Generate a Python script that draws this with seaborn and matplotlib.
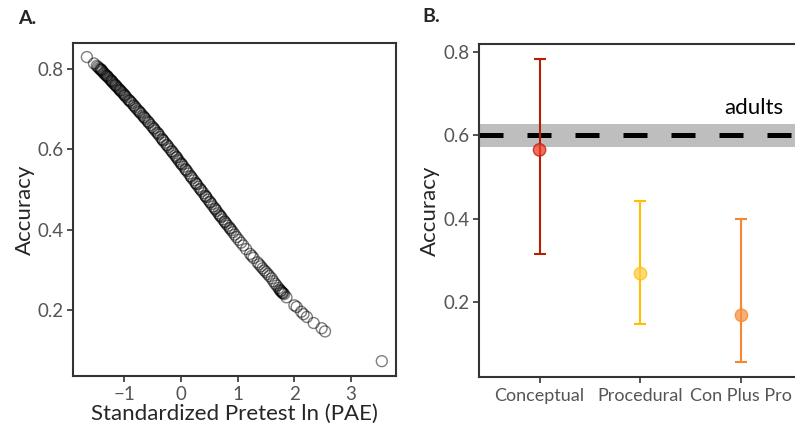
import numpy as np
import pandas as pd
import matplotlib
matplotlib.use("Agg")
import matplotlib.pyplot as plt
import seaborn as sns

# Panel A: standardized pretest ln(PAE) vs predicted accuracy (one circle per child)
pretest = [-1.655, -1.53, -1.48, -1.44, -1.41, -1.38, -1.35, -1.31, -1.27, -1.23,
           -1.2, -1.16, -1.12, -1.08, -1.04, -1.0, -0.96, -0.91, -0.86, -0.8,
           -0.75, -0.7, -0.64, -0.59, -0.53, -0.47, -0.42, -0.36, -0.31, -0.25,
           -0.19, -0.13, -0.08, -0.03, 0.02, 0.08, 0.14, 0.2, 0.26, 0.31,
           0.37, 0.43, 0.48, 0.54, 0.6, 0.66, 0.71, 0.77, 0.83, 0.89,
           0.95, 1.02, 1.1, 1.15, 1.22, 1.28, 1.35, 1.41, 1.47, 1.53,
           1.6, 1.66, 1.72, 1.76, 1.8, 1.86, 2.0, 2.04, 2.12, 2.16,
           2.22, 2.34, 2.48, 2.54, 3.54,
           -1.46, -1.42, -1.39, -1.36, -1.33, -1.29, -1.25, -1.21, -1.18, -1.14,
           -1.1, -1.06, -1.02, -0.98, -0.93, -0.88, -0.83, -0.78, -0.72, -0.67,
           -0.62, -0.56, -0.5, -0.45, -0.39, -0.33, -0.28, -0.22, -0.16, -0.1,
           -0.05, 0.0, 0.05, 0.11, 0.17, 0.23, 0.28, 0.34, 0.4, 0.45,
           0.51, 0.57, 0.63, 0.68, 0.74, 0.8, 0.86, 0.92, 0.98, 1.06,
           1.25, 1.38, 1.44, 1.5, 1.56, 1.63, 1.69, 1.74, 1.78,
           -1.4, -1.3, -1.22, -1.15, -1.07, -0.99, -0.9, -0.82, -0.73, -0.65,
           -0.57, -0.48, -0.4, -0.32, -0.24, -0.15, -0.07, 0.01, 0.09, 0.18,
           0.27, 0.35, 0.44, 0.52, 0.61, 0.7, 0.78, 0.87, 1.76, 1.79, 1.82]
accuracy = [0.83, 0.814, 0.808, 0.802, 0.798, 0.794, 0.789, 0.784, 0.778, 0.772,
            0.767, 0.761, 0.755, 0.749, 0.743, 0.737, 0.730, 0.722, 0.715, 0.705,
            0.697, 0.689, 0.679, 0.671, 0.661, 0.651, 0.642, 0.631, 0.622, 0.612,
            0.601, 0.590, 0.581, 0.571, 0.562, 0.551, 0.540, 0.528, 0.517, 0.507,
            0.496, 0.485, 0.475, 0.464, 0.453, 0.441, 0.432, 0.421, 0.410, 0.399,
            0.388, 0.375, 0.361, 0.352, 0.340, 0.330, 0.319, 0.309, 0.299, 0.290,
            0.279, 0.266, 0.255, 0.248, 0.242, 0.232, 0.212, 0.208, 0.196, 0.19,
            0.183, 0.168, 0.155, 0.147, 0.073,
            0.805, 0.800, 0.796, 0.791, 0.786, 0.781, 0.775, 0.769, 0.764, 0.758,
            0.752, 0.746, 0.740, 0.733, 0.725, 0.718, 0.710, 0.701, 0.692, 0.684,
            0.676, 0.666, 0.656, 0.647, 0.637, 0.626, 0.617, 0.606, 0.596, 0.585,
            0.575, 0.566, 0.557, 0.546, 0.534, 0.523, 0.513, 0.502, 0.491, 0.481,
            0.470, 0.458, 0.447, 0.437, 0.426, 0.415, 0.405, 0.394, 0.382, 0.368,
            0.335, 0.314, 0.304, 0.295, 0.285, 0.272, 0.261, 0.251, 0.245,
            0.799, 0.783, 0.771, 0.760, 0.747, 0.735, 0.721, 0.708, 0.694, 0.681,
            0.668, 0.653, 0.640, 0.624, 0.610, 0.594, 0.580, 0.564, 0.549, 0.532,
            0.515, 0.500, 0.483, 0.468, 0.451, 0.434, 0.419, 0.403, 0.248, 0.243, 0.240]

# Panel B: condition means with intervals
conditions = ["Conceptual", "Procedural", "Con Plus Pro"]
cond_mean = [0.565, 0.268, 0.168]
cond_low = [0.316, 0.146, 0.057]
cond_high = [0.783, 0.443, 0.398]
line_colors = ["#B81C02", "#FFBE00", "#F7872A"]
fill_colors = ["#EE3B2B", "#FFCB4A", "#F59244"]

adult_mean = 0.6
adult_low = 0.572
adult_high = 0.628

sns.set_theme(style="white")
plt.rcParams["font.family"] = ["Lato", "DejaVu Sans"]

fig = plt.figure(figsize=(7.95, 4.29), dpi=100)
ax1 = fig.add_axes([0.0918, 0.1235, 0.4063, 0.7763])
ax2 = fig.add_axes([0.6025, 0.1212, 0.4063, 0.7762])

spine_col = "#333333"
tick_col = "#555555"

# --- A ---
df_a = pd.DataFrame({"pretest": pretest, "accuracy": accuracy})
sns.scatterplot(data=df_a, x="pretest", y="accuracy", ax=ax1, s=62,
                facecolor="none", edgecolor=(0, 0, 0, 0.5), linewidth=1.0)
ax1.set_xlim(-1.9, 3.79)
ax1.set_ylim(0.036, 0.865)
ax1.set_xticks([-1, 0, 1, 2, 3])
ax1.set_xticklabels(["\u22121", "0", "1", "2", "3"])
ax1.set_yticks([0.2, 0.4, 0.6, 0.8])
ax1.set_xlabel("Standardized Pretest ln (PAE)", fontsize=16, labelpad=1)
ax1.set_ylabel("Accuracy", fontsize=16, labelpad=1.5)
for sp in ax1.spines.values():
    sp.set_color(spine_col)
    sp.set_linewidth(1.5)

# --- B ---
ax2.axhspan(adult_low, adult_high, color="#BEBEBE", lw=0, zorder=0)
ax2.axhline(adult_mean, color="black", lw=3.6, ls=(0, (4.8, 4.8)), zorder=1)
for i in range(len(conditions)):
    ax2.errorbar([conditions[i]], [cond_mean[i]],
                 yerr=[[cond_mean[i] - cond_low[i]], [cond_high[i] - cond_mean[i]]],
                 fmt="none", ecolor=line_colors[i], elinewidth=1.5,
                 capsize=4, capthick=1.5, zorder=2)
df_b = pd.DataFrame({"condition": conditions, "accuracy": cond_mean})
sns.scatterplot(data=df_b, x="condition", y="accuracy", hue="condition",
                palette=fill_colors, ax=ax2, s=80, alpha=0.75,
                edgecolor=line_colors, linewidth=1.0, legend=False, zorder=3)
ax2.text(2.12, 0.666, "adults", fontsize=16, ha="center", va="center",
         color="black")
ax2.set_xlim(-0.6, 2.6)
ax2.set_ylim(0.02, 0.819)
ax2.set_yticks([0.2, 0.4, 0.6, 0.8])
ax2.set_xlabel("")
ax2.set_ylabel("Accuracy", fontsize=16, labelpad=2)
ax2.spines["right"].set_visible(False)
for sp in ["left", "top", "bottom"]:
    ax2.spines[sp].set_color(spine_col)
    ax2.spines[sp].set_linewidth(1.5)

for ax in (ax1, ax2):
    ax.tick_params(axis="both", which="major", labelsize=13.5, colors=tick_col,
                   length=4, width=1.2, direction="out", bottom=True, left=True,
                   pad=3)
    ax.tick_params(axis="both", color=spine_col)
    ax.grid(False)
ax2.tick_params(axis="x", labelsize=13, pad=4)

fig.text(0.023, 0.957, "A.", fontsize=14, fontweight="bold", va="center")
fig.text(0.531, 0.962, "B.", fontsize=14, fontweight="bold", va="center")

fig.savefig("out.png", dpi=100)
